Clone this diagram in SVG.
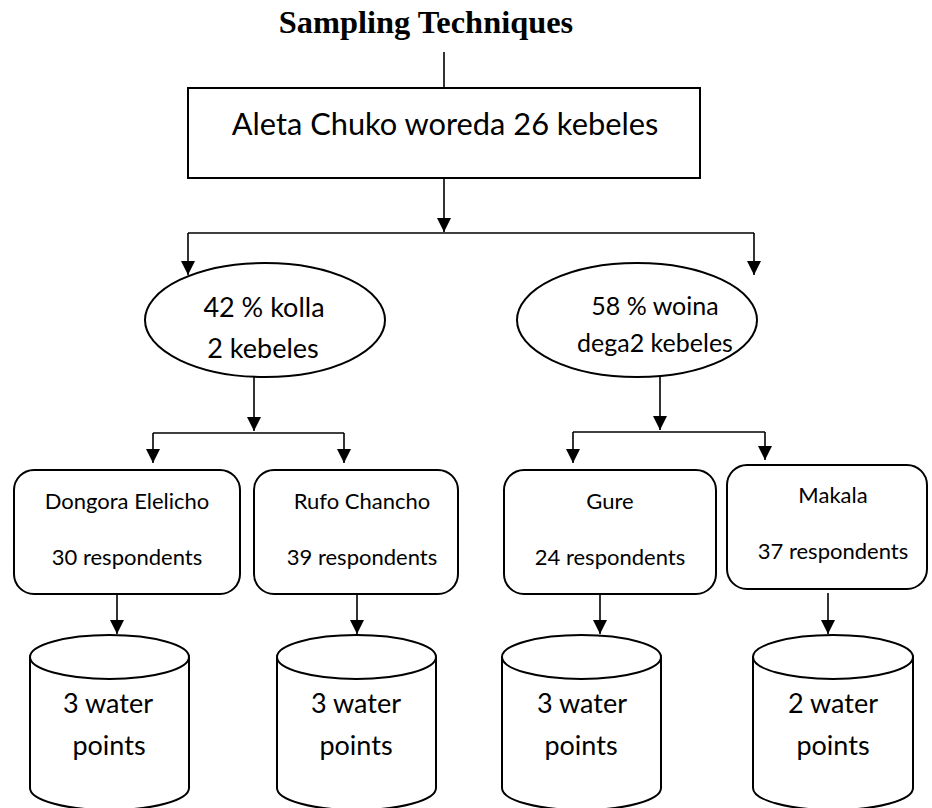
<svg xmlns="http://www.w3.org/2000/svg" width="932" height="808" viewBox="0 0 932 808">
  <style>
    .title { font-family: "Liberation Serif", "Times New Roman", serif; font-weight: bold; font-size: 32.4px; fill: #000; text-anchor: middle; }
    .lbl { font-family: Lato, "Open Sans", sans-serif; fill: #000; text-anchor: middle; }
    .big { font-size: 30.8px; }
    .mid { font-size: 27px; }
    .mid2 { font-size: 25px; }
    .sm { font-size: 22px; }
    .cyl { font-size: 27px; }
    .shape { fill: #fff; stroke: #000; stroke-width: 2; }
    .conn { fill: none; stroke: #000; stroke-width: 1.6; }
  </style>
  <defs>
    <marker id="arrow" viewBox="0 0 14 14" refX="14" refY="7" markerWidth="14" markerHeight="14" markerUnits="userSpaceOnUse" orient="auto">
      <path d="M0,0 L14,7 L0,14 z" fill="#000"/>
    </marker>
  </defs>

  <rect width="932" height="808" fill="#fff"/>

  <text class="title" x="426" y="33">Sampling Techniques</text>

  <!-- connectors -->
  <g id="connectors">
    <line class="conn" x1="444" y1="52" x2="444" y2="88"/>
    <line class="conn" x1="444" y1="178" x2="444" y2="232" marker-end="url(#arrow)"/>
    <line class="conn" x1="188" y1="233" x2="754" y2="233"/>
    <line class="conn" x1="188" y1="233" x2="188" y2="275" marker-end="url(#arrow)"/>
    <line class="conn" x1="754" y1="233" x2="754" y2="275" marker-end="url(#arrow)"/>

    <line class="conn" x1="254" y1="377" x2="254" y2="431" marker-end="url(#arrow)"/>
    <line class="conn" x1="153" y1="433" x2="344" y2="433"/>
    <line class="conn" x1="153" y1="433" x2="153" y2="463" marker-end="url(#arrow)"/>
    <line class="conn" x1="344" y1="433" x2="344" y2="463" marker-end="url(#arrow)"/>

    <line class="conn" x1="660" y1="377" x2="660" y2="430" marker-end="url(#arrow)"/>
    <line class="conn" x1="573" y1="432" x2="765" y2="432"/>
    <line class="conn" x1="573" y1="432" x2="573" y2="463" marker-end="url(#arrow)"/>
    <line class="conn" x1="765" y1="432" x2="765" y2="460" marker-end="url(#arrow)"/>

    <line class="conn" x1="117" y1="594" x2="117" y2="634" marker-end="url(#arrow)"/>
    <line class="conn" x1="357" y1="594" x2="357" y2="634" marker-end="url(#arrow)"/>
    <line class="conn" x1="600" y1="594" x2="600" y2="634" marker-end="url(#arrow)"/>
    <line class="conn" x1="828" y1="593" x2="828" y2="634" marker-end="url(#arrow)"/>
  </g>

  <!-- top box -->
  <g id="woreda">
    <rect class="shape" x="188" y="88" width="512" height="90"/>
    <text class="lbl big" x="445" y="135">Aleta Chuko woreda 26 kebeles</text>
  </g>

  <!-- agro-ecological zones -->
  <g id="kolla">
    <ellipse class="shape" cx="265" cy="320" rx="120" ry="57"/>
    <text class="lbl mid" x="264" y="317">42 % kolla</text>
    <text class="lbl mid" x="263" y="358">2 kebeles</text>
  </g>
  <g id="woina-dega">
    <ellipse class="shape" cx="637" cy="320" rx="120" ry="57"/>
    <text class="lbl mid2" x="655" y="315">58 % woina</text>
    <text class="lbl mid2" x="655" y="352">dega2 kebeles</text>
  </g>

  <!-- kebeles -->
  <g id="dongora">
    <rect class="shape" x="14" y="470" width="226" height="124" rx="20" ry="20"/>
    <text class="lbl sm" x="127" y="509">Dongora Elelicho</text>
    <text class="lbl sm" x="127" y="565">30 respondents</text>
  </g>
  <g id="rufo">
    <rect class="shape" x="254" y="470" width="204" height="124" rx="20" ry="20"/>
    <text class="lbl sm" x="362" y="509">Rufo Chancho</text>
    <text class="lbl sm" x="362" y="565">39 respondents</text>
  </g>
  <g id="gure">
    <rect class="shape" x="504" y="470" width="212" height="124" rx="20" ry="20"/>
    <text class="lbl sm" x="610" y="509">Gure</text>
    <text class="lbl sm" x="610" y="565">24 respondents</text>
  </g>
  <g id="makala">
    <rect class="shape" x="727" y="465" width="200" height="124" rx="20" ry="20"/>
    <text class="lbl sm" x="833" y="503">Makala</text>
    <text class="lbl sm" x="833" y="559">37 respondents</text>
  </g>

  <!-- water points -->
  <g id="wp-dongora">
    <path class="shape" d="M30,657 L30,788 A79.5,22 0 0 0 189,788 L189,657"/>
    <ellipse class="shape" cx="109.5" cy="657" rx="79.5" ry="22"/>
    <text class="lbl cyl" x="108" y="713">3 water</text>
    <text class="lbl cyl" x="109" y="755">points</text>
  </g>
  <g id="wp-rufo">
    <path class="shape" d="M277,657 L277,788 A79.5,22 0 0 0 436,788 L436,657"/>
    <ellipse class="shape" cx="356.5" cy="657" rx="79.5" ry="22"/>
    <text class="lbl cyl" x="356" y="713">3 water</text>
    <text class="lbl cyl" x="356" y="755">points</text>
  </g>
  <g id="wp-gure">
    <path class="shape" d="M502,657 L502,788 A79.5,22 0 0 0 661,788 L661,657"/>
    <ellipse class="shape" cx="581.5" cy="657" rx="79.5" ry="22"/>
    <text class="lbl cyl" x="582" y="713">3 water</text>
    <text class="lbl cyl" x="581" y="755">points</text>
  </g>
  <g id="wp-makala">
    <path class="shape" d="M753,657 L753,788 A80,22 0 0 0 913,788 L913,657"/>
    <ellipse class="shape" cx="833" cy="657" rx="80" ry="22"/>
    <text class="lbl cyl" x="833" y="713">2 water</text>
    <text class="lbl cyl" x="833" y="755">points</text>
  </g>
</svg>
